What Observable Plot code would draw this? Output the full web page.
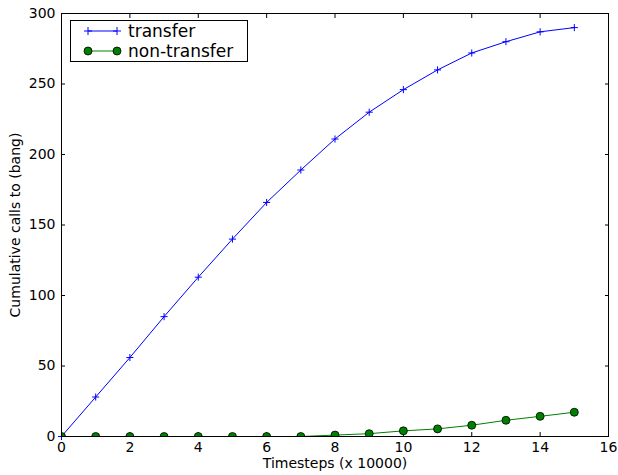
<!DOCTYPE html>
<html>
<head>
<meta charset="utf-8">
<script src="https://cdn.jsdelivr.net/npm/d3@7"></script>
<script src="https://cdn.jsdelivr.net/npm/@observablehq/plot@0.6"></script>
<style>
  html, body { margin: 0; padding: 0; background: #fff; }
  #chart svg { display: block; }
</style>
</head>
<body>
<div id="chart"></div>
<script>
const timesteps = [0, 1, 2, 3, 4, 5, 6, 7, 8, 9, 10, 11, 12, 13, 14, 15];
const transfer = [0, 28, 56, 85, 113, 140, 166, 189, 211, 230, 246, 260, 272, 280, 287, 290];
const nonTransfer = [0, 0, 0, 0, 0, 0, 0, 0, 1, 2, 4, 5.4, 8, 11.5, 14.3, 17.2];
const xTicks = [0, 2, 4, 6, 8, 10, 12, 14, 16];
const yTicks = [0, 50, 100, 150, 200, 250, 300];
const seriesNames = ["transfer", "non-transfer"];

const rowsT = timesteps.map((t, i) => ({t, v: transfer[i]}));
const rowsN = timesteps.map((t, i) => ({t, v: nonTransfer[i]}));

const plusSymbol = {
  draw(ctx, size) {
    const r = Math.sqrt(size) / 2;
    ctx.moveTo(-r, 0); ctx.lineTo(r, 0);
    ctx.moveTo(0, -r); ctx.lineTo(0, r);
  }
};

const font = "DejaVu Sans, sans-serif";
const blue = "#0000ff";
const green = "#008000";

const chart = Plot.plot({
  width: 618,
  height: 475,
  marginLeft: 61,
  marginRight: 10,
  marginTop: 13,
  marginBottom: 39,
  style: {fontFamily: font, fontSize: "14px", color: "black", background: "white"},
  x: {domain: [0, 16]},
  y: {domain: [0, 300]},
  marks: [
    Plot.axisX(xTicks, {anchor: "bottom", tickSize: -4, tickPadding: 10, fontSize: 14, label: null}),
    Plot.axisX(xTicks, {anchor: "top", tickSize: -4, tickFormat: () => "", label: null}),
    Plot.axisY(yTicks, {anchor: "left", tickSize: -4, tickPadding: 10, fontSize: 14, label: null}),
    Plot.axisY(yTicks, {anchor: "right", tickSize: -4, tickFormat: () => "", label: null}),
    Plot.line(rowsT, {x: "t", y: "v", stroke: blue, strokeWidth: 1}),
    Plot.dot(rowsT, {x: "t", y: "v", symbol: plusSymbol, r: 4, stroke: blue, strokeWidth: 1, fill: "none"}),
    Plot.line(rowsN, {x: "t", y: "v", stroke: green, strokeWidth: 1, clip: true}),
    Plot.dot(rowsN, {x: "t", y: "v", r: 4, fill: green, stroke: "black", strokeWidth: 0.8, clip: true}),
    Plot.frame({stroke: "black", strokeWidth: 1}),
    Plot.text(["Timesteps (x 10000)"], {frameAnchor: "bottom", dy: 31, fontSize: 14, text: d => d}),
    Plot.text(["Cumulative calls to (bang)"], {frameAnchor: "left", dx: -46, rotate: -90, textAnchor: "middle", fontSize: 14, text: d => d})
  ]
});

document.getElementById("chart").appendChild(chart);

// Legend (matplotlib style, upper left)
const svg = d3.select(chart);
const lg = svg.append("g").attr("font-family", font).attr("font-size", 17).attr("text-anchor", "start");
lg.append("rect").attr("x", 70.5).attr("y", 20.5).attr("width", 177).attr("height", 41)
  .attr("fill", "white").attr("stroke", "black").attr("stroke-width", 1);
const entries = [
  {name: seriesNames[0], y: 31, color: blue, kind: "plus"},
  {name: seriesNames[1], y: 51, color: green, kind: "dot"}
];
for (const e of entries) {
  lg.append("line").attr("x1", 88).attr("x2", 117).attr("y1", e.y).attr("y2", e.y)
    .attr("stroke", e.color).attr("stroke-width", 1);
  for (const mx of [88, 117]) {
    if (e.kind === "plus") {
      lg.append("path").attr("d", `M${mx-4},${e.y}H${mx+4}M${mx},${e.y-4}V${e.y+4}`)
        .attr("stroke", e.color).attr("fill", "none");
    } else {
      lg.append("circle").attr("cx", mx).attr("cy", e.y).attr("r", 4)
        .attr("fill", e.color).attr("stroke", "black").attr("stroke-width", 0.8);
    }
  }
  lg.append("text").attr("x", 128).attr("y", e.y).attr("dy", "0.35em")
    .attr("text-anchor", "start").attr("fill", "black").text(e.name);
}
</script>
</body>
</html>
